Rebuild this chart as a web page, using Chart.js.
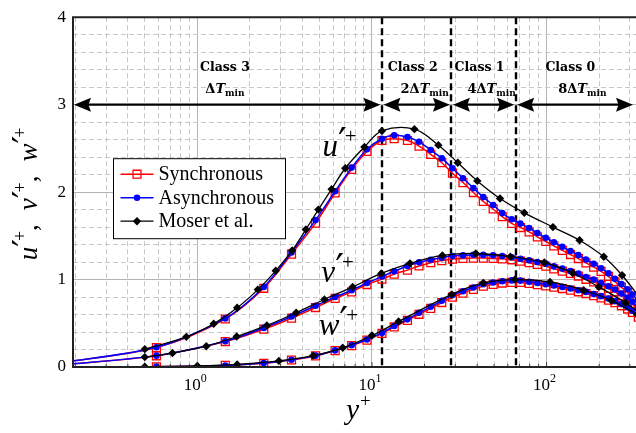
<!DOCTYPE html>
<html>
<head>
<meta charset="utf-8">
<script src="https://cdn.jsdelivr.net/npm/chart.js@4.4.1/dist/chart.umd.min.js"></script>
<style>
  html, body { margin: 0; padding: 0; background: #fff; }
  #wrap { width: 636px; height: 433px; }
</style>
</head>
<body>
<div id="wrap"><canvas id="profileChart" width="636" height="433"></canvas></div>
<script>
// Grid points (y+) of the two LTS runs
const simYPlus = [
    0.16, 0.583, 1.445, 2.40, 3.46, 4.75, 6.15, 7.65, 9.36, 11.4,
    13.4, 15.96, 18.6, 21.7, 25.1, 28.9, 33.2, 38.1, 43.4, 49.4,
    55.7, 63.1, 70.8, 79.4, 88.5, 98.9, 110, 123, 137, 152,
    168, 186, 205, 226, 246, 268, 291, 310, 335
];

// Synchronous run (red squares)
const syncU = [
    0.045, 0.222, 0.549, 0.900, 1.290, 1.645, 1.990, 2.260, 2.465, 2.590,
    2.610, 2.590, 2.526, 2.432, 2.336, 2.216, 2.109, 1.995, 1.893, 1.807,
    1.719, 1.643, 1.595, 1.545, 1.488, 1.435, 1.385, 1.333, 1.286, 1.240,
    1.190, 1.142, 1.093, 1.036, 0.975, 0.913, 0.853, 0.795, 0.725
];
const syncV = [
    0.021, 0.128, 0.291, 0.432, 0.558, 0.680, 0.784, 0.859, 0.943, 1.005,
    1.062, 1.108, 1.155, 1.193, 1.216, 1.234, 1.242, 1.245, 1.245, 1.242,
    1.237, 1.226, 1.210, 1.192, 1.172, 1.152, 1.122, 1.096, 1.070, 1.040,
    1.003, 0.973, 0.935, 0.898, 0.860, 0.815, 0.770, 0.720, 0.655
];
const syncW = [
    0.000, 0.003, 0.018, 0.043, 0.080, 0.127, 0.187, 0.245, 0.308, 0.384,
    0.458, 0.532, 0.603, 0.670, 0.737, 0.798, 0.845, 0.888, 0.925, 0.945,
    0.960, 0.968, 0.967, 0.955, 0.942, 0.928, 0.913, 0.897, 0.879, 0.860,
    0.840, 0.816, 0.791, 0.765, 0.735, 0.700, 0.663, 0.625, 0.570
];

// Asynchronous run (blue dots)
const asyncU = [
    0.046, 0.226, 0.556, 0.915, 1.310, 1.680, 2.010, 2.280, 2.490, 2.610,
    2.650, 2.630, 2.575, 2.481, 2.386, 2.273, 2.159, 2.045, 1.943, 1.852,
    1.760, 1.690, 1.640, 1.590, 1.532, 1.478, 1.427, 1.374, 1.327, 1.280,
    1.229, 1.180, 1.130, 1.072, 1.010, 0.948, 0.888, 0.828, 0.760
];
const asyncV = [
    0.021, 0.130, 0.295, 0.447, 0.577, 0.700, 0.800, 0.877, 0.960, 1.035,
    1.095, 1.155, 1.197, 1.227, 1.250, 1.268, 1.276, 1.284, 1.282, 1.277,
    1.268, 1.255, 1.238, 1.220, 1.200, 1.182, 1.151, 1.125, 1.098, 1.068,
    1.030, 1.000, 0.961, 0.924, 0.886, 0.841, 0.795, 0.745, 0.680
];
const asyncW = [
    0.000, 0.004, 0.018, 0.045, 0.083, 0.130, 0.190, 0.250, 0.315, 0.390,
    0.469, 0.545, 0.620, 0.689, 0.757, 0.822, 0.867, 0.909, 0.947, 0.966,
    0.981, 0.990, 0.988, 0.975, 0.961, 0.947, 0.932, 0.916, 0.898, 0.878,
    0.859, 0.835, 0.810, 0.784, 0.753, 0.719, 0.682, 0.643, 0.590
];

// Moser et al. DNS (black diamonds), markers only
const moserUYPlus = [0.5, 0.865, 1.24, 1.69, 2.22, 2.81, 3.49, 4.18, 4.93, 5.87, 7.03, 9.05, 11.4, 17.5, 24.0, 31.0, 40.1, 54.1, 74.5, 108.7, 154.4, 212.5, 270.5, 345];
const moserU = [0.204, 0.345, 0.495, 0.677, 0.885, 1.100, 1.333, 1.572, 1.800, 2.034, 2.273, 2.515, 2.700, 2.720, 2.537, 2.336, 2.128, 1.927, 1.763, 1.600, 1.450, 1.260, 1.049, 0.780];
const moserVYPlus = [0.5, 0.72, 1.125, 1.68, 2.5, 3.68, 5.34, 7.75, 11.3, 16.5, 25.3, 39.3, 62, 97, 141, 199, 283, 350];
const moserV = [0.113, 0.159, 0.238, 0.348, 0.475, 0.620, 0.772, 0.916, 1.070, 1.185, 1.276, 1.298, 1.262, 1.195, 1.075, 0.916, 0.734, 0.600];
const moserWYPlus = [0.5, 1.0, 1.69, 2.93, 4.6, 6.8, 10.0, 14.2, 28.6, 43.4, 65.9, 104.5, 163, 235, 330];
const moserW = [0.003, 0.012, 0.030, 0.070, 0.130, 0.220, 0.360, 0.520, 0.830, 0.962, 1.000, 0.973, 0.878, 0.760, 0.600];

// Time-step class boundaries (y+) and their labels
const classBounds = [11.4, 28.5, 66.5];
const classNames = ['Class 3', 'Class 2', 'Class 1', 'Class 0'];
const classFactors = ['', '2', '4', '8'];

// Axis ticks
const xMajorTicks = [0.1, 1, 10, 100];
const xTickLabels = [['10', '0'], ['10', '1'], ['10', '2']];
const yTickValues = [0, 1, 2, 3, 4];

const serif = '"Liberation Serif", "DejaVu Serif", serif';
const boldSerif = '"DejaVu Serif", serif';
const primeFont = '"DejaVu Serif", serif';

function pairs(xs, ys) {
    return xs.map((x, i) => ({ x: x, y: ys[i] }));
}

function isMajor(v) {
    return Math.abs(v - Math.round(v)) < 1e-6;
}

function isDecade(v) {
    const l = Math.log10(v);
    return Math.abs(l - Math.round(l)) < 1e-6;
}

// draw a row of text pieces: [text, font, dy, extra space after]
function drawPieces(ctx, pieces, x, y, align) {
    let w = 0;
    pieces.forEach(p => { ctx.font = p[1]; w += ctx.measureText(p[0]).width + (p[3] || 0); });
    let cx = align === 'center' ? x - w / 2 : x;
    pieces.forEach(p => {
        ctx.font = p[1];
        ctx.fillText(p[0], cx, y + (p[2] || 0));
        cx += ctx.measureText(p[0]).width + (p[3] || 0);
    });
}

// u'+ style symbol
function primePlus(letter, size) {
    return [
        [letter, 'italic ' + size + 'px ' + serif, 0, 0],
        ['\u2032', Math.round(size * 1.25) + 'px ' + primeFont, 0, -2],
        ['+', Math.round(size * 0.68) + 'px ' + serif, -size * 0.42, 0]
    ];
}

function drawMarker(ctx, ds, x, y) {
    const r = ds.pointRadius;
    ctx.save();
    ctx.lineWidth = ds.pointBorderWidth;
    ctx.strokeStyle = ds.pointBorderColor;
    ctx.fillStyle = ds.pointBackgroundColor;
    ctx.beginPath();
    if (ds.pointStyle === 'rect') {
        const s = Math.SQRT1_2 * r;
        ctx.rect(x - s, y - s, 2 * s, 2 * s);
    } else if (ds.pointStyle === 'rectRot') {
        ctx.moveTo(x, y - r); ctx.lineTo(x + r, y); ctx.lineTo(x, y + r); ctx.lineTo(x - r, y);
        ctx.closePath();
    } else {
        ctx.arc(x, y, r, 0, Math.PI * 2);
    }
    ctx.fill();
    if (ds.pointBorderWidth > 0) ctx.stroke();
    ctx.restore();
}

function arrowHead(ctx, tipX, tipY, dir) {
    const L = 17, H = 7;
    ctx.beginPath();
    ctx.moveTo(tipX, tipY);
    ctx.lineTo(tipX - dir * L, tipY - H);
    ctx.lineTo(tipX - dir * L * 0.85, tipY);
    ctx.lineTo(tipX - dir * L, tipY + H);
    ctx.closePath();
    ctx.fill();
}

const syncStyle = {
    borderColor: '#ff0000', borderWidth: 1.5,
    pointStyle: 'rect', pointRadius: 5.6, pointBorderWidth: 1.3,
    pointBorderColor: '#ff0000', pointBackgroundColor: 'rgba(255,255,255,0)',
    tension: 0.3, order: 3
};
const asyncStyle = {
    borderColor: '#0000ff', borderWidth: 1.5,
    pointStyle: 'circle', pointRadius: 3.3, pointBorderWidth: 0,
    pointBorderColor: '#0000ff', pointBackgroundColor: '#0000ff',
    tension: 0.3, order: 2
};
const moserStyle = {
    borderColor: '#000000', borderWidth: 1.3,
    pointStyle: 'rectRot', pointRadius: 4.2, pointBorderWidth: 0,
    pointBorderColor: '#000000', pointBackgroundColor: '#000000',
    tension: 0.35, order: 1
};

const datasets = [
    Object.assign({ label: 'Synchronous', data: pairs(simYPlus, syncU) }, syncStyle),
    Object.assign({ label: 'Synchronous v', data: pairs(simYPlus, syncV) }, syncStyle),
    Object.assign({ label: 'Synchronous w', data: pairs(simYPlus, syncW) }, syncStyle),
    Object.assign({ label: 'Asynchronous', data: pairs(simYPlus, asyncU) }, asyncStyle),
    Object.assign({ label: 'Asynchronous v', data: pairs(simYPlus, asyncV) }, asyncStyle),
    Object.assign({ label: 'Asynchronous w', data: pairs(simYPlus, asyncW) }, asyncStyle),
    Object.assign({ label: 'Moser et al.', data: pairs(moserUYPlus, moserU) }, moserStyle),
    Object.assign({ label: 'Moser et al. v', data: pairs(moserVYPlus, moserV) }, moserStyle),
    Object.assign({ label: 'Moser et al. w', data: pairs(moserWYPlus, moserW) }, moserStyle)
];

const legendItems = [
    ['Synchronous', syncStyle],
    ['Asynchronous', asyncStyle],
    ['Moser et al.', moserStyle]
];

const overlay = {
    id: 'overlay',
    beforeDatasetsDraw(chart) {
        const { ctx, chartArea: ca, scales: { x } } = chart;
        ctx.save();
        ctx.strokeStyle = '#000';
        ctx.lineWidth = 2.4;
        ctx.setLineDash([7, 4]);
        classBounds.forEach(b => {
            const px = Math.round(x.getPixelForValue(b));
            ctx.beginPath();
            ctx.moveTo(px, ca.top);
            ctx.lineTo(px, ca.bottom);
            ctx.stroke();
        });
        ctx.restore();
    },
    afterDraw(chart) {
        const { ctx, chartArea: ca, scales: { x, y } } = chart;
        ctx.save();

        // frame
        ctx.strokeStyle = '#222';
        ctx.lineWidth = 2;
        ctx.beginPath();
        ctx.moveTo(ca.right + 2, ca.top);
        ctx.lineTo(ca.left, ca.top);
        ctx.lineTo(ca.left, ca.bottom);
        ctx.lineTo(ca.right + 2, ca.bottom);
        ctx.stroke();

        // inward ticks on the bottom axis
        ctx.lineWidth = 0.8;
        x.ticks.forEach(t => {
            const px = x.getPixelForValue(t.value);
            if (px < ca.left + 1 || px > ca.right) return;
            const len = isDecade(t.value) ? 5 : 3;
            ctx.beginPath();
            ctx.moveTo(px, ca.bottom);
            ctx.lineTo(px, ca.bottom - len);
            ctx.stroke();
        });

        // class arrows along u'+ = 3
        const ay = y.getPixelForValue(3);
        const stops = [ca.left + 1].concat(classBounds.map(b => x.getPixelForValue(b)), [ca.right - 3]);
        ctx.strokeStyle = '#000';
        ctx.fillStyle = '#000';
        ctx.lineWidth = 2.2;
        for (let i = 0; i < stops.length - 1; i++) {
            const a = stops[i] + (i === 0 ? 0 : 1.5);
            const b = stops[i + 1] - (i === stops.length - 2 ? 0 : 1.5);
            ctx.beginPath();
            ctx.moveTo(a + 8, ay);
            ctx.lineTo(b - 8, ay);
            ctx.stroke();
            arrowHead(ctx, a, ay, -1);
            arrowHead(ctx, b, ay, 1);
        }

        // class texts
        ctx.textBaseline = 'alphabetic';
        const l1 = y.getPixelForValue(3.435) + 4.5;
        const l2 = y.getPixelForValue(3.174) + 4;
        for (let i = 0; i < classNames.length; i++) {
            const left = stops[i], right = stops[i + 1];
            const mid = (left + right) / 2;
            const c1 = i === 0 ? mid - 3 : mid - 4;
            const c2 = i === 0 ? c1 : c1 + 12;
            drawPieces(ctx, [[classNames[i], 'bold 12.5px ' + boldSerif]], c1, l1, 'center');
            drawPieces(ctx, [
                [classFactors[i] + '\u0394', 'bold 13px ' + boldSerif],
                ['T', 'italic bold 13px ' + boldSerif],
                ['min', 'bold 9px ' + boldSerif, 3]
            ], c2, l2, 'center');
        }

        // curve labels
        const curveLabels = [['u', 5.2, 2.41], ['v', 5.13, 0.97], ['w', 4.95, 0.367]];
        curveLabels.forEach(c => {
            drawPieces(ctx, primePlus(c[0], 31), x.getPixelForValue(c[1]), y.getPixelForValue(c[2]), 'left');
        });

        // x tick labels
        xMajorTicks.forEach(v => {
            const k = Math.round(Math.log10(v));
            if (k < 0) return;
            const lab = xTickLabels[k];
            drawPieces(ctx, [[lab[0], '17px ' + serif], [lab[1], '12px ' + serif, -8]],
                x.getPixelForValue(v) - 2, ca.bottom + 23, 'center');
        });

        // axis titles
        drawPieces(ctx, [['y', 'italic 29px ' + serif, 0, 1], ['+', '19px ' + serif, -12]],
            (ca.left + ca.right) / 2 + 4, ca.bottom + 52, 'center');
        ctx.save();
        ctx.translate(37, 194);
        ctx.rotate(-Math.PI / 2);
        const comma = [',', '27px ' + serif, 0, 14];
        drawPieces(ctx, primePlus('u', 27).concat([comma], primePlus('v', 27), [comma], primePlus('w', 27)),
            0, 0, 'center');
        ctx.restore();

        // legend
        const bx = ca.left + 40.5, by = ca.top + 141.5, bw = 172, bh = 80;
        ctx.fillStyle = '#fff';
        ctx.fillRect(bx, by, bw, bh);
        ctx.strokeStyle = '#000';
        ctx.lineWidth = 1;
        ctx.strokeRect(bx, by, bw, bh);
        legendItems.forEach((item, i) => {
            const st = item[1];
            const ry = by + 15.5 + i * 23.5;
            ctx.strokeStyle = st.borderColor;
            ctx.lineWidth = st.borderWidth;
            ctx.beginPath();
            ctx.moveTo(bx + 7, ry);
            ctx.lineTo(bx + 40, ry);
            ctx.stroke();
            drawMarker(ctx, st, bx + 23.5, ry);
            ctx.fillStyle = '#000';
            ctx.textBaseline = 'middle';
            ctx.font = '20px ' + serif;
            ctx.fillText(item[0], bx + 45, ry + 1);
        });

        ctx.restore();
    }
};

const xMin = 0.194, xMax = 325;
const xGridTicks = [];
xMajorTicks.forEach(m => {
    for (let k = 1; k <= 9; k++) {
        const v = m * k;
        if (v >= xMin && v <= xMax) xGridTicks.push(v);
    }
});

new Chart(document.getElementById('profileChart'), {
    type: 'line',
    data: { datasets: datasets },
    options: {
        responsive: false,
        animation: false,
        layout: { autoPadding: false, padding: { top: 15, right: 0, bottom: 0, left: 0 } },
        plugins: { legend: { display: false }, tooltip: { enabled: false } },
        scales: {
            x: {
                type: 'logarithmic',
                min: xMin,
                max: xMax,
                afterBuildTicks: scale => { scale.ticks = xGridTicks.map(v => ({ value: v })); },
                afterFit: scale => { scale.height = 66; },
                ticks: { display: false },
                grid: {
                    drawTicks: false,
                    color: ctx => (ctx.tick && isDecade(ctx.tick.value)) ? '#b4b4b4' : '#c8c8c8',
                    lineWidth: 1
                },
                border: { display: false, dash: ctx => (ctx.tick && !isDecade(ctx.tick.value)) ? [5, 3] : [] }
            },
            y: {
                min: 0,
                max: 4,
                afterFit: scale => { scale.width = 73; },
                ticks: {
                    stepSize: 0.2,
                    autoSkip: false,
                    padding: 7,
                    color: '#000',
                    font: { family: serif, size: 17 },
                    callback: v => isMajor(v) && yTickValues.includes(Math.round(v)) ? String(Math.round(v)) : ''
                },
                grid: {
                    drawTicks: false,
                    color: ctx => (ctx.tick && isMajor(ctx.tick.value)) ? '#b4b4b4' : '#c8c8c8',
                    lineWidth: 1
                },
                border: { display: false, dash: ctx => (ctx.tick && !isMajor(ctx.tick.value)) ? [5, 3] : [] }
            }
        }
    },
    plugins: [overlay]
});
</script>
</body>
</html>
